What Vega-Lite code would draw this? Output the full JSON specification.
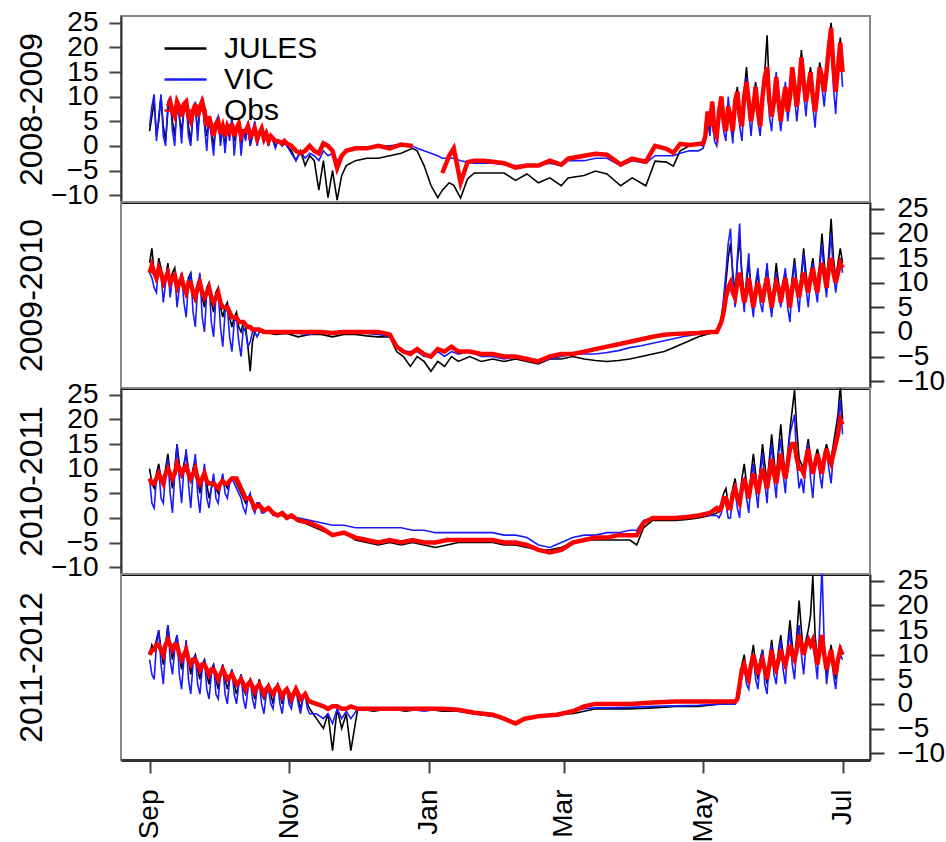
{
"$schema": "https://vega.github.io/schema/vega-lite/v6.json",
"padding": {"left": 14, "top": 7, "right": 4, "bottom": 4},
"background": "white",
"bounds": "flush",
"config": {"view": {"stroke": "#888888", "strokeWidth": 2}, "font": "Liberation Sans"},
"spacing": 0,
"resolve": {"scale": {"color": "independent"}, "legend": {"color": "independent"}},
"datasets": {"d": [
{"p":1,"t":0,"J":3,"V":4,"O":null},{"p":1,"t":1,"J":6,"V":8,"O":null},{"p":1,"t":2,"J":9,"V":10.5,"O":null},{"p":1,"t":3,"J":2,"V":1,"O":null},{"p":1,"t":4,"J":5,"V":6,"O":null},{"p":1,"t":5,"J":10,"V":10.5,"O":null},{"p":1,"t":6,"J":4,"V":2,"O":null},{"p":1,"t":7,"J":1,"V":0,"O":null},{"p":1,"t":8,"J":7,"V":9,"O":8},{"p":1,"t":9,"J":9,"V":10,"O":9},{"p":1,"t":10,"J":5,"V":3,"O":7},{"p":1,"t":11,"J":2,"V":0,"O":6},{"p":1,"t":12,"J":8,"V":9,"O":9},{"p":1,"t":13,"J":6,"V":6,"O":8},{"p":1,"t":14,"J":3,"V":0.5,"O":6},{"p":1,"t":15,"J":7,"V":8,"O":8.5},{"p":1,"t":16,"J":9,"V":9,"O":9},{"p":1,"t":17,"J":4,"V":2,"O":6},{"p":1,"t":18,"J":1,"V":0,"O":5},{"p":1,"t":19,"J":6,"V":7,"O":7},{"p":1,"t":20,"J":8,"V":9,"O":8.5},{"p":1,"t":21,"J":3,"V":1,"O":6},{"p":1,"t":22,"J":7,"V":8,"O":8},{"p":1,"t":23,"J":9,"V":10,"O":9},{"p":1,"t":24,"J":5,"V":4,"O":7},{"p":1,"t":25,"J":2,"V":-1,"O":4},{"p":1,"t":26,"J":5,"V":6,"O":6},{"p":1,"t":27,"J":3,"V":2,"O":4},{"p":1,"t":28,"J":0,"V":-2,"O":2},{"p":1,"t":29,"J":4,"V":5,"O":4.5},{"p":1,"t":30,"J":5,"V":6,"O":5},{"p":1,"t":31,"J":1,"V":0,"O":2.5},{"p":1,"t":32,"J":3,"V":4,"O":4},{"p":1,"t":33,"J":0,"V":-1.5,"O":2},{"p":1,"t":34,"J":4,"V":4,"O":4},{"p":1,"t":35,"J":2,"V":1,"O":3},{"p":1,"t":36,"J":5,"V":6,"O":4.5},{"p":1,"t":37,"J":1,"V":-2,"O":2},{"p":1,"t":38,"J":3,"V":3,"O":3.5},{"p":1,"t":39,"J":4,"V":5,"O":4.5},{"p":1,"t":40,"J":0.5,"V":-2,"O":2},{"p":1,"t":41,"J":3,"V":3,"O":3},{"p":1,"t":42,"J":2,"V":1,"O":3},{"p":1,"t":43,"J":4,"V":5,"O":4},{"p":1,"t":44,"J":0,"V":0,"O":2},{"p":1,"t":45,"J":2,"V":3,"O":2.5},{"p":1,"t":46,"J":3,"V":5,"O":3.5},{"p":1,"t":47,"J":0.5,"V":0,"O":1.5},{"p":1,"t":48,"J":2,"V":2,"O":2.5},{"p":1,"t":49,"J":4,"V":4,"O":3.5},{"p":1,"t":50,"J":1,"V":0.5,"O":1.5},{"p":1,"t":51,"J":2,"V":3,"O":2.5},{"p":1,"t":52,"J":0,"V":0,"O":1},{"p":1,"t":53,"J":2,"V":2,"O":2},{"p":1,"t":54,"J":1,"V":1,"O":1.5},{"p":1,"t":55,"J":0,"V":-0.5,"O":1},{"p":1,"t":56,"J":1,"V":1,"O":1},{"p":1,"t":57,"J":0.5,"V":0.5,"O":0.8},{"p":1,"t":58,"J":0,"V":0,"O":0.5},{"p":1,"t":59,"J":1,"V":0.5,"O":1},{"p":1,"t":60,"J":0,"V":0,"O":0.5},
{"p":1,"t":62,"J":-1,"V":-1.5,"O":0},{"p":1,"t":64,"J":-3,"V":-3,"O":-1},{"p":1,"t":66,"J":-1,"V":-1,"O":-1.5},{"p":1,"t":68,"J":-4,"V":-2.5,"O":-1},{"p":1,"t":70,"J":-2,"V":-1.5,"O":0},{"p":1,"t":72,"J":-3,"V":-2,"O":-1},{"p":1,"t":74,"J":-9,"V":-3,"O":-1.5},{"p":1,"t":76,"J":-3,"V":-1,"O":0.5},{"p":1,"t":78,"J":-10.5,"V":-2,"O":0},{"p":1,"t":80,"J":-5,"V":-1.5,"O":-1},{"p":1,"t":82,"J":-11,"V":-3,"O":-4.5},{"p":1,"t":84,"J":-6,"V":-2,"O":-2},{"p":1,"t":86,"J":-4,"V":-1,"O":-1},{"p":1,"t":90,"J":-3,"V":-0.5,"O":-0.5},{"p":1,"t":95,"J":-2.5,"V":-0.5,"O":-0.5},{"p":1,"t":100,"J":-2.5,"V":0,"O":0},{"p":1,"t":105,"J":-2,"V":0,"O":-0.5},{"p":1,"t":110,"J":-1.5,"V":0.3,"O":0.3},{"p":1,"t":115,"J":-0.5,"V":0,"O":0},{"p":1,"t":117,"J":-1,"V":-0.5,"O":null},{"p":1,"t":120,"J":-4,"V":-1,"O":null},{"p":1,"t":123,"J":-8,"V":-1.5,"O":null},{"p":1,"t":126,"J":-10.5,"V":-2,"O":null},{"p":1,"t":128,"J":-9,"V":-2.5,"O":-5.5},{"p":1,"t":131,"J":-7.5,"V":-2.5,"O":-2},{"p":1,"t":133,"J":-8,"V":-2.5,"O":-0.5},{"p":1,"t":136,"J":-10.6,"V":-3,"O":-7.5},{"p":1,"t":139,"J":-6.7,"V":-3.3,"O":-3.3},{"p":1,"t":142,"J":-5.5,"V":-3.5,"O":-3},{"p":1,"t":146,"J":-5.5,"V":-3.5,"O":-3},{"p":1,"t":150,"J":-5.5,"V":-3.5,"O":-3.2},{"p":1,"t":155,"J":-5.5,"V":-3.8,"O":-3.5},{"p":1,"t":160,"J":-7,"V":-4,"O":-4.4},{"p":1,"t":165,"J":-5.7,"V":-4,"O":-4},{"p":1,"t":170,"J":-7.5,"V":-4,"O":-4},{"p":1,"t":175,"J":-6.5,"V":-3.5,"O":-3},{"p":1,"t":180,"J":-8.1,"V":-4,"O":-3.8},{"p":1,"t":183,"J":-6.5,"V":-3,"O":-2.6},{"p":1,"t":190,"J":-6,"V":-3,"O":-2},{"p":1,"t":195,"J":-5.1,"V":-2.5,"O":-1.6},{"p":1,"t":200,"J":-5.7,"V":-2.5,"O":-1.8},{"p":1,"t":206,"J":-8.1,"V":-4,"O":-3.8},{"p":1,"t":211,"J":-6.5,"V":-3,"O":-2.6},{"p":1,"t":217,"J":-8.1,"V":-3.5,"O":-3.2},{"p":1,"t":221,"J":-3.1,"V":-2,"O":0},{"p":1,"t":226,"J":-3.3,"V":-2,"O":-0.6},{"p":1,"t":229,"J":-4.1,"V":-2,"O":-1.4},{"p":1,"t":232,"J":-1,"V":-1.5,"O":0.4},{"p":1,"t":236,"J":0,"V":-1,"O":0.2},{"p":1,"t":240,"J":0.4,"V":-1,"O":0.4},
{"p":1,"t":242,"J":0,"V":-0.5,"O":0.5},{"p":1,"t":243,"J":2,"V":1,"O":2},{"p":1,"t":244,"J":6,"V":5,"O":7},{"p":1,"t":245,"J":3,"V":2,"O":4},{"p":1,"t":246,"J":9,"V":8,"O":9},{"p":1,"t":247,"J":4,"V":1,"O":3},{"p":1,"t":248,"J":1,"V":0,"O":2},{"p":1,"t":249,"J":7,"V":6,"O":7},{"p":1,"t":250,"J":10,"V":9,"O":10},{"p":1,"t":251,"J":5,"V":3,"O":5},{"p":1,"t":252,"J":3,"V":1,"O":3},{"p":1,"t":253,"J":8,"V":10,"O":8},{"p":1,"t":254,"J":6,"V":5,"O":6},{"p":1,"t":255,"J":2,"V":0.5,"O":3},{"p":1,"t":256,"J":9,"V":8,"O":9},{"p":1,"t":257,"J":12,"V":11,"O":11},{"p":1,"t":258,"J":7,"V":4,"O":6},{"p":1,"t":259,"J":4,"V":1,"O":4},{"p":1,"t":260,"J":11,"V":9,"O":10},{"p":1,"t":261,"J":16,"V":14,"O":13},{"p":1,"t":262,"J":10,"V":7,"O":9},{"p":1,"t":263,"J":6,"V":2,"O":5},{"p":1,"t":264,"J":9,"V":8,"O":8},{"p":1,"t":265,"J":13,"V":12,"O":12},{"p":1,"t":266,"J":7,"V":5,"O":7},{"p":1,"t":267,"J":4,"V":2,"O":4},{"p":1,"t":268,"J":10,"V":9,"O":10},{"p":1,"t":269,"J":15,"V":13,"O":14},{"p":1,"t":270,"J":22.5,"V":16,"O":16},{"p":1,"t":271,"J":11,"V":6,"O":9},{"p":1,"t":272,"J":6,"V":3,"O":6},{"p":1,"t":273,"J":9,"V":10,"O":9},{"p":1,"t":274,"J":14,"V":15,"O":14},{"p":1,"t":275,"J":10,"V":7,"O":9},{"p":1,"t":276,"J":5,"V":3,"O":5},{"p":1,"t":277,"J":9,"V":8,"O":9},{"p":1,"t":278,"J":12,"V":13,"O":12},{"p":1,"t":279,"J":8,"V":5,"O":7},{"p":1,"t":280,"J":11,"V":9,"O":10},{"p":1,"t":281,"J":16,"V":15,"O":16},{"p":1,"t":282,"J":12,"V":10,"O":12},{"p":1,"t":283,"J":8,"V":5,"O":8},{"p":1,"t":284,"J":13,"V":10,"O":12},{"p":1,"t":285,"J":19.5,"V":17,"O":18},{"p":1,"t":286,"J":14,"V":11,"O":13},{"p":1,"t":287,"J":10,"V":6,"O":9},{"p":1,"t":288,"J":13,"V":12,"O":12},{"p":1,"t":289,"J":16,"V":14,"O":15},{"p":1,"t":290,"J":11,"V":8,"O":10},{"p":1,"t":291,"J":8,"V":3.7,"O":7},{"p":1,"t":292,"J":12,"V":11,"O":11},{"p":1,"t":293,"J":17,"V":16,"O":16},{"p":1,"t":294,"J":14,"V":12,"O":14},{"p":1,"t":295,"J":11,"V":8,"O":11},{"p":1,"t":296,"J":16,"V":14,"O":15},{"p":1,"t":297,"J":21,"V":19,"O":20},{"p":1,"t":298,"J":25,"V":22,"O":24},{"p":1,"t":299,"J":18,"V":12,"O":16},{"p":1,"t":300,"J":13,"V":6.5,"O":11},{"p":1,"t":301,"J":17,"V":15,"O":16},{"p":1,"t":302,"J":22,"V":20,"O":21},{"p":1,"t":303,"J":16,"V":12,"O":15},
{"p":2,"t":0,"J":14,"V":12,"O":12},{"p":2,"t":1,"J":17,"V":11,"O":13.5},{"p":2,"t":2,"J":12,"V":9,"O":12},{"p":2,"t":3,"J":10,"V":8,"O":11},{"p":2,"t":4,"J":15,"V":14,"O":13},{"p":2,"t":5,"J":13,"V":12,"O":12},{"p":2,"t":6,"J":9,"V":6,"O":10},{"p":2,"t":7,"J":11,"V":10,"O":11},{"p":2,"t":8,"J":14,"V":13,"O":12},{"p":2,"t":9,"J":10,"V":7,"O":10},{"p":2,"t":10,"J":12,"V":11,"O":11},{"p":2,"t":11,"J":13,"V":12,"O":11.5},{"p":2,"t":12,"J":8,"V":5,"O":9},{"p":2,"t":13,"J":10,"V":9,"O":10},{"p":2,"t":14,"J":12,"V":12,"O":11},{"p":2,"t":15,"J":9,"V":6,"O":9},{"p":2,"t":16,"J":7,"V":3,"O":8},{"p":2,"t":17,"J":11,"V":10,"O":10},{"p":2,"t":18,"J":12,"V":12,"O":10},{"p":2,"t":19,"J":8,"V":4,"O":8},{"p":2,"t":20,"J":6,"V":1,"O":7},{"p":2,"t":21,"J":10,"V":9,"O":9},{"p":2,"t":22,"J":11,"V":12,"O":10},{"p":2,"t":23,"J":7,"V":3,"O":8},{"p":2,"t":24,"J":5,"V":0,"O":7},{"p":2,"t":25,"J":9,"V":8,"O":8},{"p":2,"t":26,"J":10,"V":10,"O":9},{"p":2,"t":27,"J":6,"V":2,"O":7},{"p":2,"t":28,"J":4,"V":-1,"O":6},{"p":2,"t":29,"J":8,"V":7,"O":7},{"p":2,"t":30,"J":9,"V":8,"O":8},{"p":2,"t":31,"J":5,"V":1,"O":6},{"p":2,"t":32,"J":3,"V":-3,"O":5},{"p":2,"t":33,"J":5,"V":4,"O":5},{"p":2,"t":34,"J":6,"V":5,"O":5},{"p":2,"t":35,"J":3,"V":-1,"O":4},{"p":2,"t":36,"J":1,"V":-4,"O":3},{"p":2,"t":37,"J":3,"V":2,"O":3},{"p":2,"t":38,"J":4,"V":3,"O":3},{"p":2,"t":39,"J":1,"V":-2,"O":2},{"p":2,"t":40,"J":0,"V":-5,"O":2},{"p":2,"t":41,"J":2,"V":1,"O":2},{"p":2,"t":42,"J":1,"V":0,"O":1.5},{"p":2,"t":43,"J":-3,"V":-3,"O":1},{"p":2,"t":44,"J":-8,"V":-2,"O":1},{"p":2,"t":45,"J":-2,"V":0,"O":0.5},{"p":2,"t":46,"J":0,"V":0,"O":0.5},{"p":2,"t":47,"J":0.5,"V":-1,"O":0.5},{"p":2,"t":48,"J":0,"V":0,"O":0.5},{"p":2,"t":49,"J":0,"V":0,"O":0.2},{"p":2,"t":50,"J":0,"V":0,"O":0},
{"p":2,"t":55,"J":-0.5,"V":0,"O":0},{"p":2,"t":60,"J":-0.3,"V":0,"O":0},{"p":2,"t":65,"J":-1,"V":-0.3,"O":0},{"p":2,"t":70,"J":-0.5,"V":-0.5,"O":0},{"p":2,"t":75,"J":-0.5,"V":0,"O":0},{"p":2,"t":80,"J":-1,"V":-0.5,"O":-0.2},{"p":2,"t":85,"J":-0.5,"V":0,"O":0},{"p":2,"t":90,"J":-0.5,"V":0,"O":0},{"p":2,"t":95,"J":-0.8,"V":-0.3,"O":0},{"p":2,"t":100,"J":-1,"V":-0.5,"O":0},{"p":2,"t":105,"J":-1,"V":-1,"O":-0.5},{"p":2,"t":108,"J":-4,"V":-3,"O":-3},{"p":2,"t":111,"J":-5,"V":-4,"O":-4},{"p":2,"t":114,"J":-7,"V":-4,"O":-4.5},{"p":2,"t":117,"J":-5,"V":-4,"O":-3.5},{"p":2,"t":120,"J":-6,"V":-5,"O":-4.5},{"p":2,"t":123,"J":-8,"V":-5,"O":-5},{"p":2,"t":126,"J":-6,"V":-4,"O":-3.5},{"p":2,"t":129,"J":-7,"V":-5,"O":-4},{"p":2,"t":132,"J":-5,"V":-4,"O":-3},{"p":2,"t":135,"J":-6,"V":-4.5,"O":-4},{"p":2,"t":140,"J":-5,"V":-4,"O":-4},{"p":2,"t":145,"J":-6,"V":-5,"O":-4.5},{"p":2,"t":150,"J":-5.5,"V":-5,"O":-4.5},{"p":2,"t":155,"J":-6,"V":-5.5,"O":-5},{"p":2,"t":160,"J":-5.5,"V":-5,"O":-5},{"p":2,"t":165,"J":-6,"V":-5.5,"O":-5.5},{"p":2,"t":170,"J":-6.5,"V":-6,"O":-6},{"p":2,"t":175,"J":-5.5,"V":-5.5,"O":-5},{"p":2,"t":180,"J":-5.5,"V":-5,"O":-4.5},{"p":2,"t":185,"J":-5,"V":-4.5,"O":-4.5},{"p":2,"t":190,"J":-5.5,"V":-4.5,"O":-4},{"p":2,"t":195,"J":-5.8,"V":-4.5,"O":-3.5},{"p":2,"t":200,"J":-6,"V":-4.2,"O":-3},{"p":2,"t":205,"J":-5.8,"V":-3.8,"O":-2.5},{"p":2,"t":210,"J":-5.5,"V":-3.2,"O":-2},{"p":2,"t":215,"J":-5,"V":-2.8,"O":-1.5},{"p":2,"t":220,"J":-4.5,"V":-2.3,"O":-1},{"p":2,"t":225,"J":-4,"V":-1.8,"O":-0.6},{"p":2,"t":230,"J":-3,"V":-1.3,"O":-0.4},{"p":2,"t":235,"J":-2,"V":-0.8,"O":-0.3},{"p":2,"t":240,"J":-1,"V":-0.4,"O":-0.2},{"p":2,"t":245,"J":-0.3,"V":-0.2,"O":0},
{"p":2,"t":248,"J":0,"V":0,"O":0},{"p":2,"t":249,"J":1,"V":0.5,"O":1},{"p":2,"t":250,"J":3,"V":2,"O":2},{"p":2,"t":251,"J":6,"V":7,"O":4},{"p":2,"t":252,"J":10,"V":12,"O":7},{"p":2,"t":253,"J":15,"V":18,"O":9},{"p":2,"t":254,"J":18,"V":21,"O":10},{"p":2,"t":255,"J":12,"V":11,"O":8},{"p":2,"t":256,"J":8,"V":5,"O":7},{"p":2,"t":257,"J":14,"V":15,"O":10},{"p":2,"t":258,"J":19,"V":22,"O":12},{"p":2,"t":259,"J":12,"V":10,"O":9},{"p":2,"t":260,"J":7,"V":4,"O":6},{"p":2,"t":261,"J":10,"V":11,"O":8},{"p":2,"t":262,"J":14,"V":16,"O":11},{"p":2,"t":263,"J":9,"V":7,"O":8},{"p":2,"t":264,"J":5,"V":3,"O":5},{"p":2,"t":265,"J":9,"V":10,"O":8},{"p":2,"t":266,"J":12,"V":13,"O":10},{"p":2,"t":267,"J":8,"V":6,"O":8},{"p":2,"t":268,"J":6,"V":4,"O":6},{"p":2,"t":269,"J":10,"V":9,"O":9},{"p":2,"t":270,"J":13,"V":14,"O":11},{"p":2,"t":271,"J":9,"V":7,"O":8},{"p":2,"t":272,"J":4,"V":3,"O":5},{"p":2,"t":273,"J":9,"V":8,"O":8},{"p":2,"t":274,"J":14,"V":12,"O":10},{"p":2,"t":275,"J":10,"V":8,"O":9},{"p":2,"t":276,"J":6,"V":5,"O":6},{"p":2,"t":277,"J":10,"V":10,"O":9},{"p":2,"t":278,"J":12,"V":13,"O":11},{"p":2,"t":279,"J":8,"V":5,"O":8},{"p":2,"t":280,"J":5,"V":2,"O":5},{"p":2,"t":281,"J":11,"V":10,"O":9},{"p":2,"t":282,"J":15,"V":14,"O":11},{"p":2,"t":283,"J":10,"V":8,"O":9},{"p":2,"t":284,"J":7,"V":4,"O":7},{"p":2,"t":285,"J":12,"V":11,"O":10},{"p":2,"t":286,"J":17,"V":16,"O":12},{"p":2,"t":287,"J":12,"V":9,"O":10},{"p":2,"t":288,"J":8,"V":5,"O":8},{"p":2,"t":289,"J":12,"V":11,"O":11},{"p":2,"t":290,"J":15,"V":14,"O":13},{"p":2,"t":291,"J":11,"V":9,"O":10},{"p":2,"t":292,"J":9,"V":6,"O":8},{"p":2,"t":293,"J":14,"V":13,"O":12},{"p":2,"t":294,"J":20,"V":18,"O":14},{"p":2,"t":295,"J":14,"V":11,"O":12},{"p":2,"t":296,"J":10,"V":7,"O":9},{"p":2,"t":297,"J":16,"V":14,"O":13},{"p":2,"t":298,"J":23,"V":20,"O":15},{"p":2,"t":299,"J":15,"V":12,"O":12},{"p":2,"t":300,"J":11,"V":8,"O":10},{"p":2,"t":301,"J":14,"V":12,"O":12},{"p":2,"t":302,"J":17,"V":15,"O":14},{"p":2,"t":303,"J":14,"V":12,"O":13},
{"p":3,"t":0,"J":10,"V":8,"O":8},{"p":3,"t":1,"J":7,"V":3,"O":7},{"p":3,"t":2,"J":6,"V":2,"O":7},{"p":3,"t":3,"J":9,"V":8,"O":8},{"p":3,"t":4,"J":11,"V":10,"O":9},{"p":3,"t":5,"J":8,"V":4,"O":8},{"p":3,"t":6,"J":7,"V":3,"O":7},{"p":3,"t":7,"J":10,"V":9,"O":9},{"p":3,"t":8,"J":13,"V":12,"O":10},{"p":3,"t":9,"J":9,"V":5,"O":9},{"p":3,"t":10,"J":6,"V":1,"O":8},{"p":3,"t":11,"J":10,"V":9,"O":9},{"p":3,"t":12,"J":15,"V":15,"O":11},{"p":3,"t":13,"J":11,"V":8,"O":10},{"p":3,"t":14,"J":8,"V":3,"O":9},{"p":3,"t":15,"J":11,"V":10,"O":10},{"p":3,"t":16,"J":13,"V":14,"O":10.5},{"p":3,"t":17,"J":10,"V":7,"O":9},{"p":3,"t":18,"J":7,"V":2,"O":8},{"p":3,"t":19,"J":10,"V":9,"O":9},{"p":3,"t":20,"J":12,"V":13,"O":10},{"p":3,"t":21,"J":8,"V":5,"O":8},{"p":3,"t":22,"J":5,"V":1,"O":7},{"p":3,"t":23,"J":8,"V":7,"O":8},{"p":3,"t":24,"J":10,"V":11,"O":9},{"p":3,"t":25,"J":7,"V":4,"O":7.5},{"p":3,"t":26,"J":4,"V":2,"O":7},{"p":3,"t":27,"J":6,"V":6,"O":7},{"p":3,"t":28,"J":8,"V":9,"O":7},{"p":3,"t":29,"J":6,"V":4,"O":6.5},{"p":3,"t":30,"J":5,"V":3,"O":6},{"p":3,"t":31,"J":7,"V":7,"O":7},{"p":3,"t":32,"J":8,"V":9,"O":7.5},{"p":3,"t":33,"J":7,"V":5,"O":7},{"p":3,"t":34,"J":6,"V":4,"O":7},{"p":3,"t":35,"J":7,"V":7,"O":7.5},{"p":3,"t":36,"J":8,"V":8,"O":8},{"p":3,"t":37,"J":8,"V":7,"O":8},{"p":3,"t":38,"J":7,"V":6,"O":8},{"p":3,"t":39,"J":6,"V":5,"O":7},{"p":3,"t":40,"J":5,"V":4,"O":6},{"p":3,"t":41,"J":4,"V":2,"O":5},{"p":3,"t":42,"J":3,"V":1,"O":4},{"p":3,"t":43,"J":4,"V":4,"O":4},{"p":3,"t":44,"J":4,"V":5,"O":4},{"p":3,"t":45,"J":3,"V":2,"O":3},{"p":3,"t":46,"J":2,"V":1,"O":2},{"p":3,"t":47,"J":3,"V":3,"O":2.5},{"p":3,"t":48,"J":3,"V":3,"O":2.5},{"p":3,"t":49,"J":2,"V":1,"O":2},{"p":3,"t":50,"J":1.5,"V":1,"O":1.5},
{"p":3,"t":52,"J":2,"V":2,"O":2},{"p":3,"t":54,"J":1,"V":0.5,"O":1},{"p":3,"t":56,"J":0.5,"V":0.5,"O":0.5},{"p":3,"t":58,"J":0.5,"V":1,"O":1},{"p":3,"t":60,"J":0,"V":0.5,"O":0},{"p":3,"t":62,"J":0.5,"V":0,"O":0.5},{"p":3,"t":65,"J":-0.5,"V":0,"O":-0.5},{"p":3,"t":70,"J":-1.5,"V":-0.5,"O":-1},{"p":3,"t":75,"J":-2.5,"V":-1,"O":-2},{"p":3,"t":80,"J":-3.5,"V":-1.5,"O":-3.5},{"p":3,"t":85,"J":-3,"V":-1.5,"O":-3},{"p":3,"t":90,"J":-4.5,"V":-2,"O":-4},{"p":3,"t":95,"J":-5,"V":-2,"O":-4.5},{"p":3,"t":100,"J":-5.5,"V":-2,"O":-5},{"p":3,"t":105,"J":-5,"V":-2,"O":-4.5},{"p":3,"t":110,"J":-5.5,"V":-2,"O":-5},{"p":3,"t":115,"J":-5,"V":-2.5,"O":-4.5},{"p":3,"t":120,"J":-5.5,"V":-2.5,"O":-5},{"p":3,"t":125,"J":-6,"V":-3,"O":-5},{"p":3,"t":130,"J":-5.5,"V":-3,"O":-4.5},{"p":3,"t":135,"J":-5,"V":-3,"O":-4.5},{"p":3,"t":140,"J":-5,"V":-3,"O":-4.5},{"p":3,"t":145,"J":-5,"V":-3,"O":-4.5},{"p":3,"t":150,"J":-5,"V":-3,"O":-4.5},{"p":3,"t":155,"J":-5.5,"V":-3.5,"O":-5},{"p":3,"t":160,"J":-5.5,"V":-3.5,"O":-5},{"p":3,"t":165,"J":-6,"V":-4,"O":-5.5},{"p":3,"t":170,"J":-6.5,"V":-5.5,"O":-6.5},{"p":3,"t":175,"J":-6.5,"V":-6,"O":-7},{"p":3,"t":180,"J":-6,"V":-5,"O":-6.5},{"p":3,"t":185,"J":-5,"V":-4,"O":-5},{"p":3,"t":190,"J":-4.5,"V":-3.5,"O":-4.5},{"p":3,"t":195,"J":-4.5,"V":-3.5,"O":-4},{"p":3,"t":200,"J":-4.5,"V":-3,"O":-4},{"p":3,"t":205,"J":-4.5,"V":-3,"O":-3.5},{"p":3,"t":210,"J":-4.5,"V":-2.5,"O":-3.5},{"p":3,"t":213,"J":-5.5,"V":-2.5,"O":-3.5},{"p":3,"t":216,"J":-2,"V":-0.5,"O":-1},{"p":3,"t":220,"J":-0.5,"V":0,"O":0},{"p":3,"t":225,"J":-0.5,"V":0,"O":0},{"p":3,"t":230,"J":-0.5,"V":0,"O":0},{"p":3,"t":235,"J":-0.3,"V":0.3,"O":0.2},{"p":3,"t":240,"J":0,"V":0.5,"O":0.5},{"p":3,"t":245,"J":0.5,"V":0.5,"O":1},
{"p":3,"t":248,"J":1,"V":0.5,"O":2},{"p":3,"t":249,"J":2,"V":0,"O":1.5},{"p":3,"t":250,"J":3,"V":1,"O":2},{"p":3,"t":251,"J":5,"V":4,"O":4},{"p":3,"t":252,"J":6,"V":3,"O":4},{"p":3,"t":253,"J":3,"V":0,"O":2},{"p":3,"t":254,"J":2,"V":0,"O":2},{"p":3,"t":255,"J":6,"V":5,"O":5},{"p":3,"t":256,"J":8,"V":6,"O":6},{"p":3,"t":257,"J":5,"V":2,"O":4},{"p":3,"t":258,"J":3,"V":0,"O":3},{"p":3,"t":259,"J":8,"V":7,"O":6},{"p":3,"t":260,"J":11,"V":8,"O":8},{"p":3,"t":261,"J":7,"V":4,"O":6},{"p":3,"t":262,"J":4,"V":1,"O":4},{"p":3,"t":263,"J":9,"V":8,"O":7},{"p":3,"t":264,"J":13,"V":11,"O":9},{"p":3,"t":265,"J":9,"V":6,"O":7},{"p":3,"t":266,"J":5,"V":2,"O":5},{"p":3,"t":267,"J":10,"V":9,"O":8},{"p":3,"t":268,"J":15,"V":13,"O":10},{"p":3,"t":269,"J":11,"V":7,"O":8},{"p":3,"t":270,"J":7,"V":3,"O":6},{"p":3,"t":271,"J":12,"V":11,"O":9},{"p":3,"t":272,"J":17,"V":15,"O":12},{"p":3,"t":273,"J":12,"V":8,"O":9},{"p":3,"t":274,"J":8,"V":4,"O":7},{"p":3,"t":275,"J":14,"V":13,"O":10},{"p":3,"t":276,"J":19,"V":16,"O":13},{"p":3,"t":277,"J":13,"V":9,"O":10},{"p":3,"t":278,"J":8,"V":5,"O":8},{"p":3,"t":279,"J":13,"V":12,"O":11},{"p":3,"t":280,"J":18,"V":17,"O":14},{"p":3,"t":281,"J":22,"V":19,"O":15},{"p":3,"t":282,"J":26,"V":21,"O":15},{"p":3,"t":283,"J":18,"V":11,"O":12},{"p":3,"t":284,"J":12,"V":6,"O":10},{"p":3,"t":285,"J":11,"V":8,"O":10},{"p":3,"t":286,"J":10,"V":5,"O":9},{"p":3,"t":287,"J":13,"V":12,"O":12},{"p":3,"t":288,"J":16,"V":15,"O":14},{"p":3,"t":289,"J":12,"V":8,"O":11},{"p":3,"t":290,"J":9,"V":4,"O":9},{"p":3,"t":291,"J":12,"V":11,"O":11},{"p":3,"t":292,"J":14,"V":13,"O":13},{"p":3,"t":293,"J":12,"V":9,"O":11},{"p":3,"t":294,"J":10,"V":6,"O":9},{"p":3,"t":295,"J":13,"V":12,"O":12},{"p":3,"t":296,"J":15,"V":14,"O":14},{"p":3,"t":297,"J":13,"V":10,"O":12},{"p":3,"t":298,"J":12,"V":7,"O":11},{"p":3,"t":299,"J":15,"V":13,"O":13},{"p":3,"t":300,"J":18,"V":16,"O":15},{"p":3,"t":301,"J":21,"V":19,"O":17},{"p":3,"t":302,"J":27,"V":24,"O":20},{"p":3,"t":303,"J":20,"V":17,"O":19},
{"p":4,"t":0,"J":10,"V":9,"O":10},{"p":4,"t":1,"J":12,"V":6,"O":11},{"p":4,"t":2,"J":11,"V":5,"O":11},{"p":4,"t":3,"J":13,"V":12,"O":12},{"p":4,"t":4,"J":15,"V":15,"O":12},{"p":4,"t":5,"J":11,"V":8,"O":11},{"p":4,"t":6,"J":8,"V":4,"O":10},{"p":4,"t":7,"J":12,"V":11,"O":12},{"p":4,"t":8,"J":16,"V":16,"O":13},{"p":4,"t":9,"J":12,"V":9,"O":12},{"p":4,"t":10,"J":9,"V":6,"O":11},{"p":4,"t":11,"J":12,"V":11,"O":12},{"p":4,"t":12,"J":14,"V":14,"O":12},{"p":4,"t":13,"J":10,"V":6,"O":10},{"p":4,"t":14,"J":7,"V":3,"O":9},{"p":4,"t":15,"J":10,"V":9,"O":10},{"p":4,"t":16,"J":12,"V":13,"O":11},{"p":4,"t":17,"J":9,"V":5,"O":9},{"p":4,"t":18,"J":6,"V":2,"O":8},{"p":4,"t":19,"J":9,"V":8,"O":9},{"p":4,"t":20,"J":10,"V":10,"O":9},{"p":4,"t":21,"J":7,"V":4,"O":8},{"p":4,"t":22,"J":5,"V":2,"O":7},{"p":4,"t":23,"J":8,"V":7,"O":8},{"p":4,"t":24,"J":9,"V":9,"O":8},{"p":4,"t":25,"J":6,"V":3,"O":7},{"p":4,"t":26,"J":4,"V":1,"O":6},{"p":4,"t":27,"J":7,"V":6,"O":7},{"p":4,"t":28,"J":8,"V":8,"O":7},{"p":4,"t":29,"J":5,"V":2,"O":6},{"p":4,"t":30,"J":3,"V":1,"O":5},{"p":4,"t":31,"J":6,"V":6,"O":6},{"p":4,"t":32,"J":8,"V":8,"O":7},{"p":4,"t":33,"J":5,"V":2,"O":6},{"p":4,"t":34,"J":3,"V":0,"O":5},{"p":4,"t":35,"J":5,"V":5,"O":5.5},{"p":4,"t":36,"J":7,"V":7,"O":6},{"p":4,"t":37,"J":4,"V":2,"O":5},{"p":4,"t":38,"J":2,"V":0,"O":4},{"p":4,"t":39,"J":4,"V":4,"O":4.5},{"p":4,"t":40,"J":6,"V":6,"O":5},{"p":4,"t":41,"J":3,"V":1,"O":4},{"p":4,"t":42,"J":2,"V":-1,"O":3},{"p":4,"t":43,"J":4,"V":3,"O":4},{"p":4,"t":44,"J":5,"V":5,"O":4.5},{"p":4,"t":45,"J":3,"V":1,"O":3.5},{"p":4,"t":46,"J":1,"V":-1,"O":2.5},{"p":4,"t":47,"J":3,"V":3,"O":3.5},{"p":4,"t":48,"J":5,"V":4,"O":4},{"p":4,"t":49,"J":2,"V":0,"O":3},{"p":4,"t":50,"J":1,"V":-2,"O":2},{"p":4,"t":51,"J":3,"V":2,"O":3},{"p":4,"t":52,"J":4,"V":3,"O":3.5},{"p":4,"t":53,"J":2,"V":0,"O":2.5},{"p":4,"t":54,"J":0,"V":-1,"O":2},{"p":4,"t":55,"J":3,"V":3,"O":3},{"p":4,"t":56,"J":4,"V":4,"O":3.5},{"p":4,"t":57,"J":2,"V":0,"O":2.5},{"p":4,"t":58,"J":0,"V":-2,"O":1.5},{"p":4,"t":59,"J":2,"V":2,"O":2.5},{"p":4,"t":60,"J":3,"V":3,"O":3},{"p":4,"t":61,"J":1,"V":0,"O":2},{"p":4,"t":62,"J":0,"V":-1,"O":1},{"p":4,"t":63,"J":2,"V":2,"O":2},{"p":4,"t":64,"J":3,"V":3,"O":3},{"p":4,"t":65,"J":1,"V":0,"O":2},{"p":4,"t":66,"J":-1,"V":-2,"O":1},{"p":4,"t":67,"J":1,"V":1,"O":1.5},{"p":4,"t":68,"J":2,"V":2,"O":2},{"p":4,"t":69,"J":0,"V":-1,"O":1},{"p":4,"t":70,"J":-1,"V":-2,"O":0.5},
{"p":4,"t":73,"J":-3,"V":-2,"O":0},{"p":4,"t":76,"J":-5,"V":-3,"O":-0.5},{"p":4,"t":78,"J":-2,"V":-2,"O":-1},{"p":4,"t":80,"J":-9.5,"V":-4,"O":-0.5},{"p":4,"t":82,"J":-1,"V":-1,"O":-0.5},{"p":4,"t":84,"J":-5,"V":-3,"O":-1},{"p":4,"t":86,"J":-2,"V":-1.5,"O":-1},{"p":4,"t":88,"J":-9.5,"V":-3,"O":-0.5},{"p":4,"t":91,"J":-1,"V":-1,"O":-1},{"p":4,"t":98,"J":-1.5,"V":-1,"O":-1},{"p":4,"t":105,"J":-1,"V":-1,"O":-1},{"p":4,"t":112,"J":-1.5,"V":-1,"O":-1},{"p":4,"t":120,"J":-1,"V":-1.5,"O":-1},{"p":4,"t":128,"J":-1.5,"V":-1,"O":-1},{"p":4,"t":135,"J":-1.5,"V":-1.5,"O":-1.2},{"p":4,"t":142,"J":-2,"V":-2,"O":-1.8},{"p":4,"t":150,"J":-2.5,"V":-2.5,"O":-2.2},{"p":4,"t":155,"J":-3,"V":-3,"O":-3},{"p":4,"t":160,"J":-4,"V":-3.8,"O":-4},{"p":4,"t":164,"J":-3,"V":-3,"O":-3},{"p":4,"t":170,"J":-2.5,"V":-2.5,"O":-2.5},{"p":4,"t":178,"J":-2,"V":-2.5,"O":-2.2},{"p":4,"t":185,"J":-2,"V":-1.5,"O":-1.5},{"p":4,"t":190,"J":-1.5,"V":-1,"O":-0.5},{"p":4,"t":195,"J":-1,"V":-0.8,"O":0},{"p":4,"t":200,"J":-1,"V":-0.8,"O":0},{"p":4,"t":210,"J":-1,"V":-0.7,"O":0},{"p":4,"t":220,"J":-0.8,"V":-0.5,"O":0.3},{"p":4,"t":230,"J":-0.5,"V":-0.4,"O":0.5},{"p":4,"t":240,"J":-0.5,"V":-0.3,"O":0.5},{"p":4,"t":250,"J":0,"V":0,"O":0.5},
{"p":4,"t":256,"J":0,"V":0,"O":0.5},{"p":4,"t":257,"J":1,"V":0.5,"O":1},{"p":4,"t":258,"J":3,"V":2,"O":4},{"p":4,"t":259,"J":8,"V":6,"O":7},{"p":4,"t":260,"J":10,"V":8,"O":8},{"p":4,"t":261,"J":6,"V":4,"O":6},{"p":4,"t":262,"J":4,"V":3,"O":5},{"p":4,"t":263,"J":9,"V":8,"O":8},{"p":4,"t":264,"J":12,"V":10,"O":10},{"p":4,"t":265,"J":8,"V":5,"O":8},{"p":4,"t":266,"J":5,"V":3,"O":6},{"p":4,"t":267,"J":9,"V":9,"O":8},{"p":4,"t":268,"J":11,"V":11,"O":9},{"p":4,"t":269,"J":7,"V":4,"O":7},{"p":4,"t":270,"J":4,"V":2,"O":5},{"p":4,"t":271,"J":9,"V":9,"O":8},{"p":4,"t":272,"J":13,"V":12,"O":11},{"p":4,"t":273,"J":9,"V":6,"O":8},{"p":4,"t":274,"J":6,"V":4,"O":7},{"p":4,"t":275,"J":11,"V":10,"O":9},{"p":4,"t":276,"J":14,"V":13,"O":11},{"p":4,"t":277,"J":10,"V":7,"O":9},{"p":4,"t":278,"J":7,"V":4,"O":8},{"p":4,"t":279,"J":12,"V":11,"O":10},{"p":4,"t":280,"J":17,"V":15,"O":12},{"p":4,"t":281,"J":12,"V":8,"O":10},{"p":4,"t":282,"J":9,"V":5,"O":9},{"p":4,"t":283,"J":14,"V":12,"O":11},{"p":4,"t":284,"J":21,"V":16,"O":14},{"p":4,"t":285,"J":15,"V":10,"O":12},{"p":4,"t":286,"J":10,"V":6,"O":10},{"p":4,"t":287,"J":13,"V":12,"O":12},{"p":4,"t":288,"J":15,"V":14,"O":13},{"p":4,"t":289,"J":18,"V":12,"O":12},{"p":4,"t":290,"J":26,"V":12,"O":13},{"p":4,"t":291,"J":14,"V":9,"O":11},{"p":4,"t":292,"J":9,"V":5,"O":8},{"p":4,"t":293,"J":12,"V":16,"O":11},{"p":4,"t":294,"J":14,"V":28,"O":14},{"p":4,"t":295,"J":10,"V":12,"O":10},{"p":4,"t":296,"J":6,"V":4,"O":7},{"p":4,"t":297,"J":9,"V":8,"O":9},{"p":4,"t":298,"J":12,"V":11,"O":11},{"p":4,"t":299,"J":8,"V":6,"O":8},{"p":4,"t":300,"J":5,"V":3,"O":6},{"p":4,"t":301,"J":9,"V":8,"O":9},{"p":4,"t":302,"J":12,"V":10,"O":11},{"p":4,"t":303,"J":10,"V":9,"O":10}
]},
"vconcat": [
{
 "width": 749, "height": 186,
 "data": {"name": "d"},
 "transform": [{"filter": "datum.p == 1"}, {"fold": ["J","V","O"], "as": ["s","v"]}],
 "resolve": {"axis": {"x": "independent", "y": "independent"}},
 "layer": [
  {"transform": [{"filter": "datum.s == 'J'"}],
   "mark": {"type": "line", "clip": true, "strokeWidth": 1.6},
   "encoding": {
    "x": {"field": "t", "type": "quantitative", "scale": {"domain": [-12.5, 315], "nice": false, "zero": false}, "axis": {"labels": false, "ticks": false, "title": null, "grid": false, "domainColor": "#111111", "domainWidth": 3}},
    "y": {"field": "v", "type": "quantitative", "scale": {"domain": [-11.4, 26.4], "nice": false, "zero": false}, "axis": {"orient": "left", "values": [-10,-5,0,5,10,15,20,25], "grid": false, "labelOverlap": false, "labelFlush": false, "labelFontSize": 28, "labelColor": "#000000", "labelPadding": 11, "tickSize": 12, "tickWidth": 2, "tickColor": "#444444", "domainColor": "#333333", "domainWidth": 2, "title": "2008-2009", "titleFontSize": 32, "titleFontWeight": "normal", "titleColor": "#000000", "titleAngle": 270, "titleBaseline": "middle", "titleAlign": "center", "titleX": -90, "titleY": 93}},
    "color": {"field": "s", "type": "nominal", "scale": {"domain": ["J","V","O"], "range": ["#000000","#1a1aff","#ff0000"]}, "legend": {"orient": "none", "legendX": 42, "legendY": 21, "title": null, "symbolType": "stroke", "symbolSize": 1764, "symbolStrokeWidth": 2.5, "labelFontSize": 30, "labelColor": "#000000", "labelOffset": 16, "rowPadding": 0, "clipHeight": 23, "labelExpr": "datum.label == 'J' ? 'JULES' : datum.label == 'V' ? 'VIC' : 'Obs'"}}
   }},
  {"transform": [{"filter": "datum.s == 'V'"}],
   "mark": {"type": "line", "clip": true, "strokeWidth": 1.6},
   "encoding": {
    "x": {"field": "t", "type": "quantitative", "axis": null},
    "y": {"field": "v", "type": "quantitative", "axis": null},
    "color": {"field": "s", "type": "nominal"}
   }},
  {"transform": [{"filter": "datum.s == 'O'"}],
   "mark": {"type": "line", "clip": true, "strokeWidth": 4.5, "invalid": "break-paths-show-domains"},
   "encoding": {
    "x": {"field": "t", "type": "quantitative", "axis": null},
    "y": {"field": "v", "type": "quantitative", "axis": null},
    "color": {"field": "s", "type": "nominal"}
   }}
 ]
},
{
 "width": 749, "height": 186,
 "data": {"name": "d"},
 "transform": [{"filter": "datum.p == 2"}, {"fold": ["J","V","O"], "as": ["s","v"]}],
 "resolve": {"axis": {"x": "independent", "y": "independent"}},
 "layer": [
  {"transform": [{"filter": "datum.s == 'J'"}],
   "mark": {"type": "line", "clip": true, "strokeWidth": 1.6, "color": "#000000"},
   "encoding": {
    "x": {"field": "t", "type": "quantitative", "scale": {"domain": [-12.5, 315], "nice": false, "zero": false}, "axis": {"labels": false, "ticks": false, "title": null, "grid": false, "domainColor": "#111111", "domainWidth": 3}},
    "y": {"field": "v", "type": "quantitative", "scale": {"domain": [-11.4, 26.4], "nice": false, "zero": false}, "axis": {"orient": "left", "labels": false, "ticks": false, "domain": false, "grid": false, "title": "2009-2010", "titleFontSize": 32, "titleFontWeight": "normal", "titleColor": "#000000", "titleAngle": 270, "titleBaseline": "middle", "titleAlign": "center", "titleX": -90, "titleY": 93}}
   }},
  {"transform": [{"filter": "datum.s == 'V'"}],
   "mark": {"type": "line", "clip": true, "strokeWidth": 1.6, "color": "#1a1aff"},
   "encoding": {
    "x": {"field": "t", "type": "quantitative", "axis": null},
    "y": {"field": "v", "type": "quantitative", "axis": {"orient": "right", "values": [-10,-5,0,5,10,15,20,25], "grid": false, "labelOverlap": false, "labelFlush": false, "labelFontSize": 28, "labelColor": "#000000", "labelPadding": 13, "tickSize": 14, "tickWidth": 2, "tickColor": "#333333", "domainColor": "#333333", "domainWidth": 2, "title": null}}
   }},
  {"transform": [{"filter": "datum.s == 'O'"}],
   "mark": {"type": "line", "clip": true, "strokeWidth": 4.5, "color": "#ff0000", "invalid": "break-paths-show-domains"},
   "encoding": {
    "x": {"field": "t", "type": "quantitative", "axis": null},
    "y": {"field": "v", "type": "quantitative", "axis": null}
   }}
 ]
},
{
 "width": 749, "height": 186,
 "data": {"name": "d"},
 "transform": [{"filter": "datum.p == 3"}, {"fold": ["J","V","O"], "as": ["s","v"]}],
 "resolve": {"axis": {"x": "independent", "y": "independent"}},
 "layer": [
  {"transform": [{"filter": "datum.s == 'J'"}],
   "mark": {"type": "line", "clip": true, "strokeWidth": 1.6, "color": "#000000"},
   "encoding": {
    "x": {"field": "t", "type": "quantitative", "scale": {"domain": [-12.5, 315], "nice": false, "zero": false}, "axis": {"labels": false, "ticks": false, "title": null, "grid": false, "domainColor": "#111111", "domainWidth": 3}},
    "y": {"field": "v", "type": "quantitative", "scale": {"domain": [-11.4, 26.4], "nice": false, "zero": false}, "axis": {"orient": "left", "values": [-10,-5,0,5,10,15,20,25], "grid": false, "labelOverlap": false, "labelFlush": false, "labelFontSize": 28, "labelColor": "#000000", "labelPadding": 11, "tickSize": 12, "tickWidth": 2, "tickColor": "#444444", "domainColor": "#333333", "domainWidth": 2, "title": "2010-2011", "titleFontSize": 32, "titleFontWeight": "normal", "titleColor": "#000000", "titleAngle": 270, "titleBaseline": "middle", "titleAlign": "center", "titleX": -90, "titleY": 93}}
   }},
  {"transform": [{"filter": "datum.s == 'V'"}],
   "mark": {"type": "line", "clip": true, "strokeWidth": 1.6, "color": "#1a1aff"},
   "encoding": {
    "x": {"field": "t", "type": "quantitative", "axis": null},
    "y": {"field": "v", "type": "quantitative", "axis": null}
   }},
  {"transform": [{"filter": "datum.s == 'O'"}],
   "mark": {"type": "line", "clip": true, "strokeWidth": 4.5, "color": "#ff0000", "invalid": "break-paths-show-domains"},
   "encoding": {
    "x": {"field": "t", "type": "quantitative", "axis": null},
    "y": {"field": "v", "type": "quantitative", "axis": null}
   }}
 ]
},
{
 "width": 749, "height": 186,
 "data": {"name": "d"},
 "transform": [{"filter": "datum.p == 4"}, {"fold": ["J","V","O"], "as": ["s","v"]}],
 "resolve": {"axis": {"x": "independent", "y": "independent"}},
 "layer": [
  {"transform": [{"filter": "datum.s == 'J'"}],
   "mark": {"type": "line", "clip": true, "strokeWidth": 1.6, "color": "#000000"},
   "encoding": {
    "x": {"field": "t", "type": "quantitative", "scale": {"domain": [-12.5, 315], "nice": false, "zero": false}, "axis": {"values": [0,61,122,181,242,303], "labelExpr": "datum.value == 0 ? 'Sep' : datum.value == 61 ? 'Nov' : datum.value == 122 ? 'Jan' : datum.value == 181 ? 'Mar' : datum.value == 242 ? 'May' : 'Jul'", "labelAngle": 270, "labelAlign": "right", "labelBaseline": "middle", "labelFontSize": 28, "labelColor": "#000000", "labelPadding": 16, "labelOverlap": false, "labelFlush": false, "tickSize": 13, "tickWidth": 2, "tickColor": "#444444", "title": null, "grid": false, "domainColor": "#333333", "domainWidth": 3}},
    "y": {"field": "v", "type": "quantitative", "scale": {"domain": [-11.4, 26.4], "nice": false, "zero": false}, "axis": {"orient": "left", "labels": false, "ticks": false, "domain": false, "grid": false, "title": "2011-2012", "titleFontSize": 32, "titleFontWeight": "normal", "titleColor": "#000000", "titleAngle": 270, "titleBaseline": "middle", "titleAlign": "center", "titleX": -90, "titleY": 93}}
   }},
  {"transform": [{"filter": "datum.s == 'V'"}],
   "mark": {"type": "line", "clip": true, "strokeWidth": 1.6, "color": "#1a1aff"},
   "encoding": {
    "x": {"field": "t", "type": "quantitative", "axis": null},
    "y": {"field": "v", "type": "quantitative", "axis": {"orient": "right", "values": [-10,-5,0,5,10,15,20,25], "grid": false, "labelOverlap": false, "labelFlush": false, "labelFontSize": 28, "labelColor": "#000000", "labelPadding": 13, "tickSize": 14, "tickWidth": 2, "tickColor": "#333333", "domainColor": "#333333", "domainWidth": 2, "title": null}}
   }},
  {"transform": [{"filter": "datum.s == 'O'"}],
   "mark": {"type": "line", "clip": true, "strokeWidth": 4.5, "color": "#ff0000", "invalid": "break-paths-show-domains"},
   "encoding": {
    "x": {"field": "t", "type": "quantitative", "axis": null},
    "y": {"field": "v", "type": "quantitative", "axis": null}
   }}
 ]
}
]
}
